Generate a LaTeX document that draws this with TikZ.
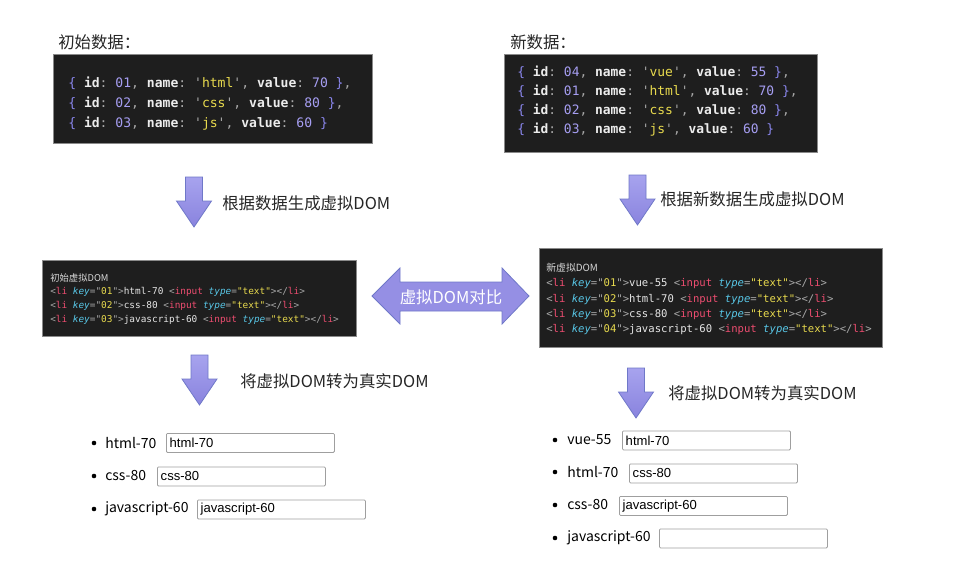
\documentclass[tikz,border=0pt]{standalone}
\usepackage{fontspec}
\setmainfont{Noto Sans CJK SC}
\setmonofont{DejaVu Sans Mono}
\newfontfamily\inputfont{Liberation Sans}

\definecolor{codebg}{HTML}{1E1E1E}
\definecolor{codeedge}{HTML}{8A8A8A}
\definecolor{codetitle}{HTML}{D8D8D8}
\definecolor{jsbrace}{HTML}{8A86EC}
\definecolor{jskey}{HTML}{ECECEC}
\definecolor{jspun}{HTML}{A8A8A8}
\definecolor{jsnum}{HTML}{A69EF2}
\definecolor{jsstr}{HTML}{E8DA4E}
\definecolor{tagred}{HTML}{EE4D70}
\definecolor{attrcyan}{HTML}{58C6E6}
\definecolor{plaintxt}{HTML}{E6E6E6}
\definecolor{arrowtop}{HTML}{A7A3EE}
\definecolor{arrowbot}{HTML}{8983DE}
\definecolor{arrowbody}{HTML}{958FE4}
\definecolor{arrowedge}{HTML}{6F78C8}
\definecolor{captext}{HTML}{262626}

% colouring of the code snippets
\newcommand{\jbr}[1]{\textcolor{jsbrace}{#1}}
\newcommand{\jkey}[1]{\textcolor{jskey}{\bfseries #1}}
\newcommand{\jpun}[1]{\textcolor{jspun}{#1}}
\newcommand{\jnum}[1]{\textcolor{jsnum}{#1}}
\newcommand{\jstr}[1]{\textcolor{jsstr}{#1}}
\newcommand{\tpun}[1]{\textcolor{jspun}{#1}}
\newcommand{\tagc}[1]{\textcolor{tagred}{#1}}
\newcommand{\attrc}[1]{\textcolor{attrcyan}{\itshape #1}}
\newcommand{\tstr}[1]{\textcolor{jsstr}{#1}}
\newcommand{\ttxt}[1]{\textcolor{plaintxt}{#1}}

\tikzset{
  codebox/.style={fill=codebg, draw=codeedge, line width=0.6pt},
  codeline/.style={anchor=base west, inner sep=0pt},
  blockarrow/.style={draw=arrowedge, line width=0.6pt, top color=arrowtop, bottom color=arrowbot},
  caption/.style={anchor=west, inner sep=0pt, text=captext, font=\fontsize{12.3}{14}\selectfont},
  item/.style={anchor=west, inner sep=0pt, text=black, font=\fontsize{10.5}{12}\selectfont},
  inputbox/.style={anchor=north west, draw=gray!75, line width=0.6pt, rounded corners=0.8pt,
    text width=121pt, minimum height=14.25pt, inner xsep=2.5pt, inner ysep=0pt, align=left,
    font=\inputfont\fontsize{9.8}{11}\selectfont},
}

\begin{document}
\begin{tikzpicture}[x=0.75pt, y=-0.75pt]
    \fill[white] (0,0) rectangle (965,582);
    \useasboundingbox (0,0) rectangle (965,582);

    % Data before and after
    \node[caption] (oldcap) at (58,42) {初始数据：};
    \node[caption] (newcap) at (510,42) {新数据：};

    \fill[codebox] (53,54) rectangle (372,143);
    \begin{scope}[font=\ttfamily\fontsize{9.8}{12}\selectfont]
      \node[codeline] (old1) at (68,87) {\jbr{\{} \jkey{id}\jpun{:} \jnum{01}\jpun{,} \jkey{name}\jpun{:} \jpun{'}\jstr{html}\jpun{'}\jpun{,} \jkey{value}\jpun{:} \jnum{70} \jbr{\}}\jpun{,}};
      \node[codeline] (old2) at (68,107) {\jbr{\{} \jkey{id}\jpun{:} \jnum{02}\jpun{,} \jkey{name}\jpun{:} \jpun{'}\jstr{css}\jpun{'}\jpun{,} \jkey{value}\jpun{:} \jnum{80} \jbr{\}}\jpun{,}};
      \node[codeline] (old3) at (68,127) {\jbr{\{} \jkey{id}\jpun{:} \jnum{03}\jpun{,} \jkey{name}\jpun{:} \jpun{'}\jstr{js}\jpun{'}\jpun{,} \jkey{value}\jpun{:} \jnum{60} \jbr{\}}};
    \end{scope}

    \fill[codebox] (504,54) rectangle (817,152);
    \begin{scope}[font=\ttfamily\fontsize{9.7}{12}\selectfont]
      \node[codeline] (new1) at (517,76) {\jbr{\{} \jkey{id}\jpun{:} \jnum{04}\jpun{,} \jkey{name}\jpun{:} \jpun{'}\jstr{vue}\jpun{'}\jpun{,} \jkey{value}\jpun{:} \jnum{55} \jbr{\}}\jpun{,}};
      \node[codeline] (new2) at (517,95) {\jbr{\{} \jkey{id}\jpun{:} \jnum{01}\jpun{,} \jkey{name}\jpun{:} \jpun{'}\jstr{html}\jpun{'}\jpun{,} \jkey{value}\jpun{:} \jnum{70} \jbr{\}}\jpun{,}};
      \node[codeline] (new3) at (517,114) {\jbr{\{} \jkey{id}\jpun{:} \jnum{02}\jpun{,} \jkey{name}\jpun{:} \jpun{'}\jstr{css}\jpun{'}\jpun{,} \jkey{value}\jpun{:} \jnum{80} \jbr{\}}\jpun{,}};
      \node[codeline] (new4) at (517,133) {\jbr{\{} \jkey{id}\jpun{:} \jnum{03}\jpun{,} \jkey{name}\jpun{:} \jpun{'}\jstr{js}\jpun{'}\jpun{,} \jkey{value}\jpun{:} \jnum{60} \jbr{\}}};
    \end{scope}

    % Down arrows
    \foreach \ax/\ay in {194/177, 637.5/175, 199.5/355, 636/368} {
      \draw[blockarrow] (\ax-8.5,\ay) -- (\ax+8.5,\ay) -- (\ax+8.5,\ay+24) -- (\ax+17.5,\ay+24)
        -- (\ax,\ay+50) -- (\ax-17.5,\ay+24) -- (\ax-8.5,\ay+24) -- cycle;
    }
    \node[caption] (gen1) at (222,203) {根据数据生成虚拟DOM};
    \node[caption] (gen2) at (660,199) {根据新数据生成虚拟DOM};
    \node[caption] (real1) at (240,381) {将虚拟DOM转为真实DOM};
    \node[caption] (real2) at (668,393) {将虚拟DOM转为真实DOM};

    % Virtual DOM snippets
    \fill[codebox] (42,260) rectangle (356,336);
    \node[codeline, text=codetitle, font=\fontsize{7}{8}\selectfont] (vd1) at (50,281.5) {初始虚拟DOM};
    \begin{scope}[font=\ttfamily\fontsize{7.05}{8}\selectfont]
      \node[codeline] (vd1a) at (50,294) {\tpun{<}\tagc{li} \attrc{key}\tpun{="}\tstr{01}\tpun{">}\ttxt{html-70} \tpun{<}\tagc{input} \attrc{type}\tpun{=}\tstr{"text"}\tpun{></}\tagc{li}\tpun{>}};
      \node[codeline] (vd1b) at (50,308) {\tpun{<}\tagc{li} \attrc{key}\tpun{="}\tstr{02}\tpun{">}\ttxt{css-80} \tpun{<}\tagc{input} \attrc{type}\tpun{=}\tstr{"text"}\tpun{></}\tagc{li}\tpun{>}};
      \node[codeline] (vd1c) at (50,322) {\tpun{<}\tagc{li} \attrc{key}\tpun{="}\tstr{03}\tpun{">}\ttxt{javascript-60} \tpun{<}\tagc{input} \attrc{type}\tpun{=}\tstr{"text"}\tpun{></}\tagc{li}\tpun{>}};
    \end{scope}

    \fill[codebox] (539,248) rectangle (882,347);
    \node[codeline, text=codetitle, font=\fontsize{7.4}{8}\selectfont] (vd2) at (546,271.5) {新虚拟DOM};
    \begin{scope}[font=\ttfamily\fontsize{7.95}{9}\selectfont]
      \node[codeline] (vd2a) at (546,286.5) {\tpun{<}\tagc{li} \attrc{key}\tpun{="}\tstr{01}\tpun{">}\ttxt{vue-55} \tpun{<}\tagc{input} \attrc{type}\tpun{=}\tstr{"text"}\tpun{></}\tagc{li}\tpun{>}};
      \node[codeline] (vd2b) at (546,302) {\tpun{<}\tagc{li} \attrc{key}\tpun{="}\tstr{02}\tpun{">}\ttxt{html-70} \tpun{<}\tagc{input} \attrc{type}\tpun{=}\tstr{"text"}\tpun{></}\tagc{li}\tpun{>}};
      \node[codeline] (vd2c) at (546,317.5) {\tpun{<}\tagc{li} \attrc{key}\tpun{="}\tstr{03}\tpun{">}\ttxt{css-80} \tpun{<}\tagc{input} \attrc{type}\tpun{=}\tstr{"text"}\tpun{></}\tagc{li}\tpun{>}};
      \node[codeline] (vd2d) at (546,332.5) {\tpun{<}\tagc{li} \attrc{key}\tpun{="}\tstr{04}\tpun{">}\ttxt{javascript-60} \tpun{<}\tagc{input} \attrc{type}\tpun{=}\tstr{"text"}\tpun{></}\tagc{li}\tpun{>}};
    \end{scope}

    % Compare arrow
    \draw[draw=arrowedge, line width=0.6pt, fill=arrowbody] (372,296) -- (400,268) -- (400,282) -- (502,282)
      -- (502,268) -- (529,296) -- (502,324) -- (502,311) -- (400,311) -- (400,324) -- cycle;
    \node[text=white, font=\fontsize{12.3}{14}\selectfont] (cmp) at (451,297) {虚拟DOM对比};

    % Real DOM, left
    \foreach \by in {443,476,509} {
      \fill (94,\by) circle (2.3);
    }
    \node[item] (li1) at (105,443) {html-70};
    \node[item] (li2) at (105,476) {css-80};
    \node[item] (li3) at (105,509) {javascript-60};
    \node[inputbox] (in1) at (166,433) {html-70};
    \node[inputbox] (in2) at (157,466.5) {css-80};
    \node[inputbox] (in3) at (197,499.5) {javascript-60};

    % Real DOM, right
    \foreach \by in {440,472,505,538} {
      \fill (555,\by) circle (2.3);
    }
    \node[item] (ri1) at (567,440) {vue-55};
    \node[item] (ri2) at (567,472) {html-70};
    \node[item] (ri3) at (567,505) {css-80};
    \node[item] (ri4) at (567,538) {javascript-60};
    \node[inputbox] (rin1) at (622,430.5) {html-70};
    \node[inputbox] (rin2) at (629,463.5) {css-80};
    \node[inputbox] (rin3) at (619,496) {javascript-60};
    \node[inputbox] (rin4) at (659,528.5) {};
  \end{tikzpicture}
\end{document}
